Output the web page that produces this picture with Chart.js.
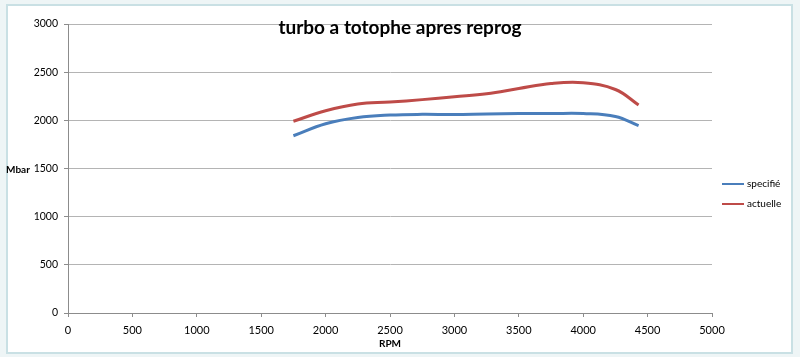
<!DOCTYPE html>
<html>
<head>
<meta charset="utf-8">
<script src="https://cdn.jsdelivr.net/npm/chart.js@4.4.0/dist/chart.umd.min.js"></script>
<style>
  html, body { margin:0; padding:0; width:800px; height:357px; overflow:hidden; background:#eef5f6; }
  #frame { position:absolute; left:6px; top:4px; width:783px; height:346px; background:#ffffff; border:2px solid #c9e0e4; }
  #wrap { position:absolute; left:0; top:0; width:800px; height:357px; }
</style>
</head>
<body>
<div id="frame"></div>
<div id="wrap"><canvas id="c" width="800" height="357"></canvas></div>
<script>
const chartTitle = "turbo a totophe apres reprog";
const xTitle = "RPM";
const yTitle = "Mbar";
const seriesNames = ["specifié", "actuelle"];
const rpm = [1750, 2000, 2250, 2500, 2750, 3000, 3250, 3500, 3750, 4000, 4250, 4430];
const specifie = [1840, 1965, 2030, 2055, 2062, 2060, 2066, 2070, 2070, 2070, 2040, 1945];
const actuelle = [1990, 2100, 2170, 2190, 2215, 2245, 2275, 2330, 2382, 2390, 2320, 2160];
const xTicks = [0, 500, 1000, 1500, 2000, 2500, 3000, 3500, 4000, 4500, 5000];
const yTicks = [0, 500, 1000, 1500, 2000, 2500, 3000];

const FONT = "Lato, 'Liberation Sans', sans-serif";

const overlay = {
  id: 'overlay',
  afterDraw(chart) {
    const ctx = chart.ctx;
    const area = chart.chartArea;
    ctx.save();
    ctx.fillStyle = '#000';
    ctx.font = "bold 19px " + FONT;
    ctx.textAlign = 'center';
    ctx.textBaseline = 'alphabetic';
    ctx.fillText(chartTitle, 400, 34);
    ctx.font = "bold 10px " + FONT;
    ctx.textAlign = 'left';
    ctx.textBaseline = 'middle';
    ctx.fillText(yTitle, 6, chart.scales.y.getPixelForValue(1500) + 1);
    ctx.textAlign = 'center';
    ctx.fillText(xTitle, (area.left + area.right) / 2, 344);
    ctx.font = "10px " + FONT;
    ctx.textAlign = 'left';
    const ys = [184, 204];
    chart.data.datasets.forEach((ds, i) => {
      ctx.strokeStyle = ds.borderColor;
      ctx.lineWidth = 2;
      ctx.beginPath();
      ctx.moveTo(722, ys[i]);
      ctx.lineTo(744, ys[i]);
      ctx.stroke();
      ctx.fillStyle = '#000';
      ctx.fillText(ds.label, 747, ys[i]);
    });
    ctx.restore();
  }
};

new Chart(document.getElementById('c'), {
  type: 'line',
  data: {
    datasets: [
      {
        label: seriesNames[0],
        data: rpm.map((r, i) => ({ x: r, y: specifie[i] })),
        borderColor: '#4a7ebb',
        borderWidth: 3,
        pointRadius: 0,
        tension: 0.4,
        fill: false
      },
      {
        label: seriesNames[1],
        data: rpm.map((r, i) => ({ x: r, y: actuelle[i] })),
        borderColor: '#be4b48',
        borderWidth: 3,
        pointRadius: 0,
        tension: 0.4,
        fill: false
      }
    ]
  },
  options: {
    responsive: false,
    animation: false,
    events: [],
    layout: { padding: { top: 24, right: 88, left: 0, bottom: 0 } },
    plugins: {
      legend: { display: false },
      title: { display: false },
      tooltip: { enabled: false }
    },
    scales: {
      x: {
        type: 'linear',
        min: 0,
        max: 5000,
        afterBuildTicks: s => { s.ticks = xTicks.map(v => ({ value: v })); },
        afterFit: s => { s.height = 44; },
        grid: { display: true, drawOnChartArea: false, drawTicks: true, tickLength: 4, color: '#8c8c8c' },
        border: { color: '#8c8c8c', width: 1 },
        ticks: { color: '#000', font: { family: FONT, size: 11 }, padding: 7, maxRotation: 0, callback: v => String(v) }
      },
      y: {
        min: 0,
        max: 3000,
        afterBuildTicks: s => { s.ticks = yTicks.map(v => ({ value: v })); },
        afterFit: s => { s.width = 68; },
        grid: { color: '#b4b4b4', tickLength: 4, tickColor: '#8c8c8c' },
        border: { color: '#8c8c8c', width: 1 },
        ticks: { color: '#000', font: { family: FONT, size: 10.5 }, padding: 6, callback: v => String(v) }
      }
    }
  },
  plugins: [overlay]
});
</script>
</body>
</html>
